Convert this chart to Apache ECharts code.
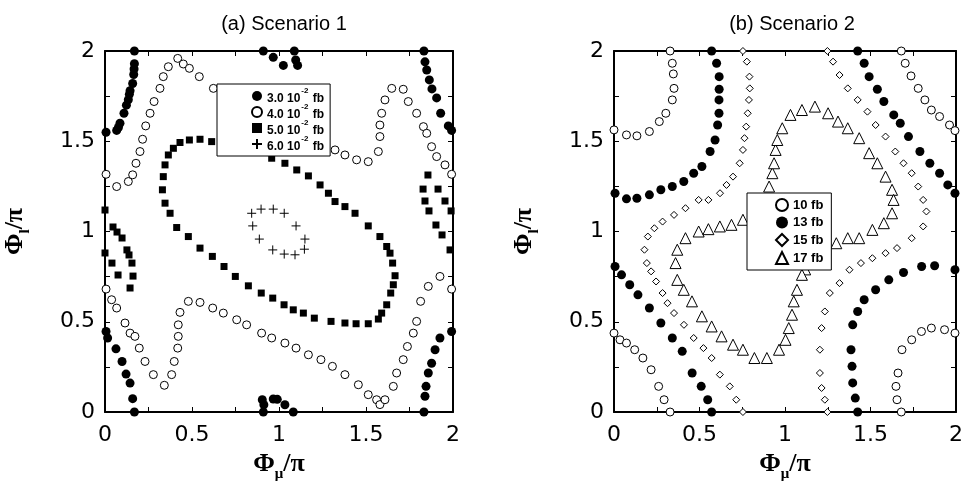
<!DOCTYPE html>
<html>
<head>
<meta charset="utf-8">
<script src="https://cdn.jsdelivr.net/npm/echarts@6/dist/echarts.min.js"></script>
<style>
  html, body { margin: 0; padding: 0; background: #fff; }
  #chart { width: 966px; height: 493px; }
</style>
</head>
<body>
<div id="chart"></div>
<script>
// values, in units of pi
const ticks = [0, 0.5, 1, 1.5, 2];

// (a) Scenario 1
const a30 = [
  [0.169,2.0],[0.169,1.93],[0.167,1.90],[0.165,1.87],[0.159,1.82],[0.144,1.78],[0.14,1.76],[0.134,1.73],[0.123,1.70],[0.109,1.655],[0.086,1.60],[0.077,1.576],[0.067,1.56],[0.006,1.55],
  [0.91,2.0],[0.967,1.965],[1.025,1.92],[1.088,2.0],[1.096,1.95],[1.107,1.92],
  [1.833,2.0],[1.839,1.94],[1.849,1.895],[1.864,1.84],[1.879,1.79],[1.906,1.74],[1.929,1.655],[1.973,1.585],[1.992,1.56],
  [0.006,0.446],[0.015,0.41],[0.063,0.35],[0.098,0.28],[0.121,0.21],[0.144,0.16],[0.159,0.074],[0.169,0],
  [0.904,0.068],[0.913,0.04],[0.91,0],[0.967,0.072],[0.99,0.07],[1.034,0.04],[1.082,0],
  [1.833,0],[1.839,0.087],[1.845,0.142],[1.858,0.216],[1.877,0.27],[1.897,0.345],[1.925,0.41],[1.992,0.446]
];
const a40 = [
  [0.006,1.317],[0.067,1.249],[0.134,1.277],[0.159,1.314],[0.178,1.378],[0.201,1.443],[0.216,1.511],[0.234,1.585],[0.259,1.655],[0.282,1.72],[0.316,1.793],[0.335,1.858],[0.364,1.913],[0.418,1.959],[0.45,1.928],[0.485,1.904],[0.542,1.858],[0.623,1.793],
  [1.322,1.452],[1.379,1.424],[1.446,1.397],[1.513,1.387],[1.571,1.443],[1.58,1.526],[1.58,1.59],[1.59,1.655],[1.609,1.729],[1.648,1.793],[1.714,1.788],[1.743,1.72],[1.791,1.655],[1.83,1.581],[1.849,1.544],[1.877,1.47],[1.906,1.415],[1.954,1.369],[1.992,1.317],
  [0.006,0.681],[0.038,0.622],[0.067,0.576],[0.115,0.493],[0.144,0.437],[0.172,0.419],[0.197,0.354],[0.23,0.28],[0.278,0.207],[0.341,0.148],[0.383,0.207],[0.398,0.28],[0.418,0.354],[0.421,0.419],[0.421,0.483],[0.431,0.552],[0.479,0.613],[0.546,0.607],[0.619,0.576],[0.68,0.548],[0.757,0.511],[0.814,0.483],[0.9,0.437],[0.958,0.41],[1.034,0.382],[1.098,0.354],[1.169,0.317],[1.241,0.29],[1.307,0.253],[1.379,0.207],[1.456,0.151],[1.513,0.096],[1.561,0.068],[1.58,0.041],[1.609,0.068],[1.657,0.142],[1.676,0.216],[1.714,0.29],[1.738,0.363],[1.772,0.437],[1.791,0.502],[1.814,0.613],[1.858,0.696],[1.925,0.751],[1.992,0.681]
];
const a50 = [
  [0.345,1.157],[0.33,1.231],[0.335,1.304],[0.345,1.369],[0.364,1.424],[0.393,1.461],[0.431,1.493],[0.485,1.507],[0.546,1.511],[0.613,1.498],
  [0.958,1.406],[1.034,1.378],[1.102,1.341],[1.169,1.308],[1.236,1.258],[1.284,1.212],[1.322,1.166],[1.379,1.138],[1.437,1.101],[1.513,1.031],[1.58,0.972],[1.619,0.917],[1.638,0.88],[1.653,0.825],[1.667,0.755],[1.657,0.705],[1.642,0.659],[1.619,0.594],[1.59,0.548],[1.571,0.515],
  [1.513,0.489],[1.443,0.489],[1.379,0.493],[1.299,0.502],[1.203,0.52],[1.14,0.548],[1.082,0.566],[1.029,0.594],[0.964,0.631],[0.898,0.659],[0.824,0.699],[0.749,0.751],[0.684,0.806],[0.617,0.862],[0.546,0.908],[0.479,0.972],[0.412,1.022],[0.374,1.101],
  [0,1.119],[0.046,1.025],[0.069,0.997],[0.098,0.964],[0,0.881],[0.126,0.898],[0.138,0.87],[0.04,0.825],[0.155,0.825],[0.075,0.759],[0.161,0.753],[0.144,0.687],
  [1.856,1.313],[1.828,1.235],[1.914,1.235],[1.839,1.169],[1.954,1.169],[1.862,1.114],[1.989,1.114],[1.902,1.036],[1.937,0.981],[1.983,0.898]
];
const a60 = [
  [0.843,1.101],[0.897,1.124],[0.967,1.124],[1.03,1.101],[1.098,1.031],[1.149,0.958],[1.146,0.902],[1.092,0.871],[1.03,0.875],[0.964,0.898],[0.887,0.958],[0.849,1.031]
];

// (b) Scenario 2
const b10 = [
  [0.328,2.0],[0.341,1.932],[0.347,1.873],[0.351,1.793],[0.341,1.729],[0.303,1.655],[0.265,1.609],[0.207,1.554],[0.134,1.53],[0.073,1.535],[0,1.563],
  [0,0.437],[0.035,0.4],[0.073,0.382],[0.121,0.345],[0.169,0.299],[0.217,0.234],[0.261,0.142],[0.293,0.068],[0.328,0],
  [1.68,0],[1.655,0.068],[1.649,0.142],[1.661,0.216],[1.684,0.345],[1.741,0.4],[1.798,0.446],[1.856,0.465],[1.933,0.456],[1.994,0.437],
  [1.68,2.0],[1.703,1.932],[1.737,1.862],[1.779,1.793],[1.818,1.729],[1.856,1.673],[1.904,1.637],[1.962,1.59],[1.994,1.559]
];
const b13 = [
  [0.571,2.0],[0.6,1.932],[0.615,1.858],[0.615,1.788],[0.614,1.729],[0.614,1.655],[0.606,1.59],[0.591,1.507],[0.562,1.443],[0.514,1.36],[0.466,1.323],[0.408,1.277],[0.341,1.249],[0.274,1.231],[0.207,1.203],[0.134,1.184],[0.073,1.181],[0.006,1.212],
  [0.006,0.806],[0.044,0.76],[0.092,0.705],[0.14,0.649],[0.207,0.576],[0.274,0.493],[0.341,0.41],[0.399,0.336],[0.457,0.216],[0.51,0.142],[0.548,0.068],[0.571,0],
  [1.425,0],[1.411,0.077],[1.396,0.161],[1.392,0.253],[1.386,0.345],[1.396,0.483],[1.425,0.557],[1.463,0.622],[1.53,0.677],[1.607,0.732],[1.693,0.773],[1.799,0.806],[1.875,0.81],[1.994,0.788],
  [1.425,2.0],[1.463,1.932],[1.492,1.858],[1.54,1.788],[1.578,1.72],[1.636,1.646],[1.674,1.6],[1.722,1.526],[1.789,1.443],[1.847,1.378],[1.904,1.323],[1.952,1.258],[1.994,1.212]
];
const b15 = [
  [0.754,2.0],[0.777,1.941],[0.792,1.858],[0.794,1.793],[0.789,1.729],[0.782,1.655],[0.773,1.581],[0.763,1.517],[0.754,1.452],[0.735,1.378],[0.696,1.304],[0.658,1.258],[0.62,1.212],[0.552,1.175],[0.495,1.175],[0.418,1.129],[0.351,1.092],[0.284,1.055],[0.236,1.018],[0.198,0.972],[0.178,0.899],[0.192,0.825],[0.217,0.779],[0.246,0.723],[0.284,0.659],[0.313,0.603],[0.351,0.548],[0.409,0.483],[0.466,0.41],[0.523,0.354],[0.571,0.299],[0.619,0.207],[0.677,0.142],[0.715,0.068],[0.754,0],
  [1.248,2.0],[1.281,1.941],[1.319,1.867],[1.367,1.793],[1.425,1.729],[1.482,1.664],[1.53,1.59],[1.588,1.526],[1.645,1.443],[1.693,1.378],[1.741,1.323],[1.779,1.249],[1.808,1.175],[1.827,1.111],[1.808,1.028],[1.741,0.963],[1.655,0.908],[1.588,0.88],[1.511,0.852],[1.444,0.825],[1.377,0.788],[1.319,0.714],[1.262,0.659],[1.233,0.557],[1.214,0.465],[1.204,0.345],[1.204,0.216],[1.214,0.133],[1.233,0.068],[1.248,0]
];
const b17 = [
  [1.099,1.673],[1.175,1.692],[1.252,1.655],[1.31,1.609],[1.367,1.572],[1.434,1.517],[1.492,1.434],[1.54,1.378],[1.588,1.304],[1.626,1.231],[1.635,1.175],[1.626,1.101],[1.578,1.046],[1.511,1.009],[1.434,0.963],[1.367,0.963],[1.3,0.935],[1.233,0.917],
  [1.118,0.79],[1.099,0.76],[1.07,0.677],[1.051,0.613],[1.041,0.539],[1.022,0.465],[1.003,0.4],[0.965,0.345],[0.894,0.299],[0.821,0.299],[0.754,0.345],[0.696,0.373],[0.629,0.419],[0.571,0.474],[0.514,0.53],[0.456,0.613],[0.408,0.677],[0.37,0.732],[0.36,0.825],[0.37,0.899],[0.418,0.963],[0.495,1.0],[0.552,1.013],[0.619,1.028],[0.687,1.037],[0.754,1.065],
  [0.907,1.249],[0.926,1.323],[0.936,1.378],[0.945,1.452],[0.955,1.507],[0.984,1.572],[1.032,1.646]
];

const legendA = ['3.0', '4.0', '5.0', '6.0'];
const legendB = ['10 fb', '13 fb', '15 fb', '17 fb'];

const chart = echarts.init(document.getElementById('chart'));

const labelFont = 'DejaVu Sans';
const nameRich = {
  a: { fontSize: 26, fontWeight: 'bold', fontFamily: 'Liberation Serif', color: '#000', verticalAlign: 'top' },
  s: { fontSize: 15, fontWeight: 'bold', fontFamily: 'Liberation Serif', color: '#000', verticalAlign: 'bottom', padding: [16, 0, 0, 0] }
};

function axis(pos, gridIndex, showLabel, name) {
  const ax = {
    type: 'value', gridIndex: gridIndex, position: pos,
    min: 0, max: 2, interval: 0.5,
    axisLine: { show: true, onZero: false, lineStyle: { color: '#000', width: 2 } },
    axisTick: { show: true, inside: true, length: 5, lineStyle: { color: '#000', width: 1 } },
    minorTick: { show: true, splitNumber: 2, length: 5, lineStyle: { color: '#000', width: 1 } },
    splitLine: { show: false },
    axisLabel: {
      show: showLabel, color: '#000', fontSize: 22, fontFamily: labelFont,
      margin: (pos === 'bottom' ? 12 : 10)
    }
  };
  if (name) {
    ax.name = name;
    ax.nameLocation = 'middle';
    ax.nameTextStyle = { rich: nameRich };
    if (pos === 'bottom') { ax.nameGap = 36; }
    else { ax.nameGap = 72; ax.nameRotate = 90; }
  }
  return ax;
}

const xName = '{a|Φ}{s|μ}{a|/π}';
const yName = '{a|Φ}{s|l}{a|/π}';

const openStyle = { color: '#fff', borderColor: '#000', borderWidth: 1, opacity: 1 };
const fillStyle = { color: '#000', opacity: 1 };

function sc(name, data, gi, symbol, size, style) {
  return {
    type: 'scatter', name: name, data: data,
    xAxisIndex: gi * 2, yAxisIndex: gi * 2,
    symbol: symbol, symbolSize: size, itemStyle: style, clip: false,
    emphasis: { disabled: true }, silent: true
  };
}

const plusPath = 'path://M0,5L10,5M5,0L5,10';

const legendText = {
  rich: {
    t: { fontSize: 12, fontWeight: 'bold', fontFamily: 'Liberation Sans', color: '#000', lineHeight: 18, verticalAlign: 'bottom' },
    sup: { fontSize: 8, fontWeight: 'bold', fontFamily: 'Liberation Sans', color: '#000', lineHeight: 10, verticalAlign: 'top', padding: [0, 1, 0, 1] }
  }
};

chart.setOption({
  animation: false,
  backgroundColor: '#fff',
  title: [
    { text: '(a) Scenario 1', left: 279, top: 9, textAlign: 'center',
      textStyle: { fontSize: 20, fontWeight: 'normal', fontFamily: 'Liberation Sans', color: '#000' } },
    { text: '(b) Scenario 2', left: 787, top: 9, textAlign: 'center',
      textStyle: { fontSize: 20, fontWeight: 'normal', fontFamily: 'Liberation Sans', color: '#000' } }
  ],
  grid: [
    { left: 105, top: 51, width: 348, height: 361 },
    { left: 614, top: 51, width: 347, height: 361 }
  ],
  xAxis: [
    axis('bottom', 0, true, xName), axis('top', 0, false),
    axis('bottom', 1, true, xName), axis('top', 1, false)
  ],
  yAxis: [
    axis('left', 0, true, yName), axis('right', 0, false),
    axis('left', 1, true, yName), axis('right', 1, false)
  ],
  legend: [
    {
      data: legendA, orient: 'vertical', left: 217, top: 84,
      padding: [3, 6, 3, 34], itemGap: -2, itemWidth: 10, itemHeight: 10,
      backgroundColor: '#fff', borderColor: '#000', borderWidth: 1, borderRadius: 0,
      selectedMode: false, textStyle: legendText,
      formatter: function (n) { return '{t|' + n + ' 10}{sup|-2}{t| fb}'; }
    },
    {
      data: legendB, orient: 'vertical', left: 747, top: 193,
      padding: [5, 8, 5, 28], itemGap: 4, itemWidth: 12, itemHeight: 12,
      backgroundColor: '#fff', borderColor: '#000', borderWidth: 1, borderRadius: 0,
      selectedMode: false,
      textStyle: { fontSize: 13, fontWeight: 'bold', fontFamily: 'Liberation Sans', color: '#000' }
    }
  ],
  series: [
    sc('3.0', a30, 0, 'circle', 9, fillStyle),
    sc('4.0', a40, 0, 'circle', 8, openStyle),
    sc('5.0', a50, 0, 'rect', 7, fillStyle),
    sc('6.0', a60, 0, plusPath, 9, { color: 'transparent', borderColor: '#000', borderWidth: 1, opacity: 1 }),
    sc('10 fb', b10, 1, 'circle', 8, openStyle),
    sc('13 fb', b13, 1, 'circle', 9, fillStyle),
    sc('15 fb', b15, 1, 'diamond', 7, openStyle),
    sc('17 fb', b17, 1, 'triangle', 11, openStyle)
  ]
});
</script>
</body>
</html>
